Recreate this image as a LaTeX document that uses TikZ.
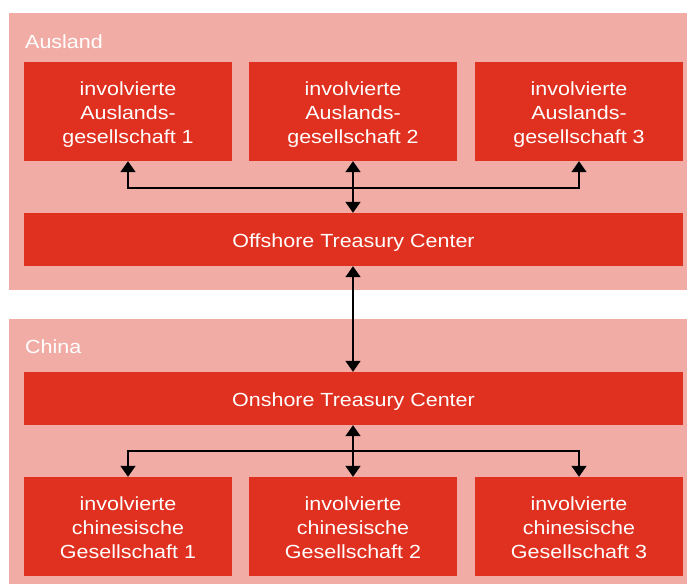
\documentclass[tikz,border=0pt]{standalone}
\usepackage{fontspec}
\setmainfont{Liberation Sans}[FakeStretch=1.13]
\usetikzlibrary{arrows.meta}
\definecolor{panelpink}{HTML}{F2ACA6}
\definecolor{boxred}{HTML}{E0301F}
\newcommand{\boxlines}[1]{\raisebox{-2.7pt}[\height][\depth]{\begin{tabular}{@{}c@{}}#1\end{tabular}}}
\begin{document}
\begin{tikzpicture}[x=1pt,y=-1pt,
  panel/.style={fill=panelpink,draw=none,inner sep=0pt,minimum width=678pt,anchor=north west},
  entity/.style={fill=boxred,draw=none,text=white,inner sep=0pt,
    minimum width=208pt,minimum height=99pt,font=\fontsize{19}{24}\selectfont},
  center/.style={fill=boxred,draw=none,text=white,inner sep=0pt,text height=15.6pt,text depth=0pt,
    minimum width=659pt,minimum height=53pt,font=\fontsize{19}{24}\selectfont},
  region/.style={text=white,anchor=base west,inner sep=0pt,font=\fontsize{19}{24}\selectfont},
  link/.style={line width=1.6pt,draw=black},
  tip/.style={-{Triangle[width=15pt,length=11pt]}},
  both/.style={{Triangle[width=15pt,length=11pt]}-{Triangle[width=15pt,length=11pt]}}
]
\useasboundingbox (0,0) rectangle (687,584);
\node[panel,minimum height=277pt] (top) at (9,13) {};
\node[panel,minimum height=265pt] (bot) at (9,319) {};
\node[region] (lAus) at (25,48) {Ausland};
\node[region] (lChi) at (25,353) {China};

\node[entity] (a1) at (128,111.5) {\boxlines{involvierte\\Auslands-\\gesellschaft 1}};
\node[entity] (a2) at (353,111.5) {\boxlines{involvierte\\Auslands-\\gesellschaft 2}};
\node[entity] (a3) at (579,111.5) {\boxlines{involvierte\\Auslands-\\gesellschaft 3}};
\node[center] (off) at (353.5,239.5) {Offshore Treasury Center};
\node[center] (on) at (353.5,398.5) {Onshore Treasury Center};
\node[entity] (b1) at (128,526.5) {\boxlines{involvierte\\chinesische\\Gesellschaft 1}};
\node[entity] (b2) at (353,526.5) {\boxlines{involvierte\\chinesische\\Gesellschaft 2}};
\node[entity] (b3) at (579,526.5) {\boxlines{involvierte\\chinesische\\Gesellschaft 3}};

\coordinate (j1) at (353,188);
\coordinate (j2) at (353,451);
\draw[link,both] (a2.south) -- (a2.south |- off.north);
\draw[link,tip] (j1) -| (a1.south);
\draw[link,tip] (j1) -| (a3.south);
\draw[link,both] (a2.south |- off.south) -- (a2.south |- on.north);
\draw[link,both] (a2.south |- on.south) -- (b2.north);
\draw[link,tip] (j2) -| (b1.north);
\draw[link,tip] (j2) -| (b3.north);
\end{tikzpicture}
\end{document}
